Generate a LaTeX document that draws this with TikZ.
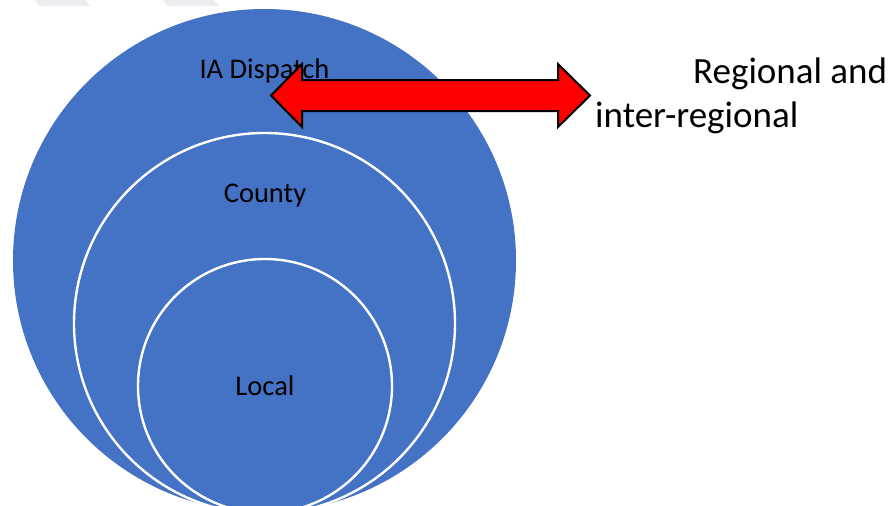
\documentclass[tikz,border=0pt]{standalone}
\usepackage{fontspec}
\setmainfont{Carlito}
\definecolor{ringblue}{HTML}{4472C4}
\definecolor{wmgray}{HTML}{ECEDF1}
\tikzset{
  ring/.style={circle, inner sep=0pt, fill=ringblue, draw=white, line width=2.4pt},
  ringlabel/.style={anchor=base, inner sep=0pt, font=\fontsize{28.5}{34}\selectfont},
  sidelabel/.style={anchor=base west, inner sep=0pt, font=\fontsize{37}{44}\selectfont},
  redarrow/.style={fill=red, draw=black, line width=2pt, line join=miter},
  watermark/.style={fill=wmgray, draw=none}
}
\begin{document}
\begin{tikzpicture}[x=1pt,y=-1pt]
\useasboundingbox (0,0) rectangle (892,506);
\fill[white] (0,0) rectangle (892,506);
\begin{scope}
\clip (0,0) rectangle (892,506);
\fill[watermark] (33,-1) -- (85,-1) -- (90,6) -- (40,6) -- cycle;
\fill[watermark] (162,-1) -- (213,-1) -- (219,6) -- (168,6) -- cycle;
\node[ring, draw=none, minimum size=503pt] (ia) at (264.5,260.5) {};
\node[ring, minimum size=381pt] (county) at (264.5,323.5) {};
\node[ring, minimum size=254pt] (local) at (265,386) {};
\end{scope}
\node[ringlabel] (ialabel) at (264.5,78) {IA Dispatch};
\node[ringlabel] (countylabel) at (265,202) {County};
\node[ringlabel] (locallabel) at (265,395) {Local};
\draw[redarrow] (271,95.5) -- (302,64) -- (302,80) -- (558,80) -- (558,64)
  -- (590,95.5) -- (558,127) -- (558,111) -- (302,111) -- (302,127) -- cycle;
\node[sidelabel] (reg1) at (693,83) {Regional and};
\node[sidelabel] (reg2) at (595,127) {inter-regional};
\end{tikzpicture}
\end{document}
